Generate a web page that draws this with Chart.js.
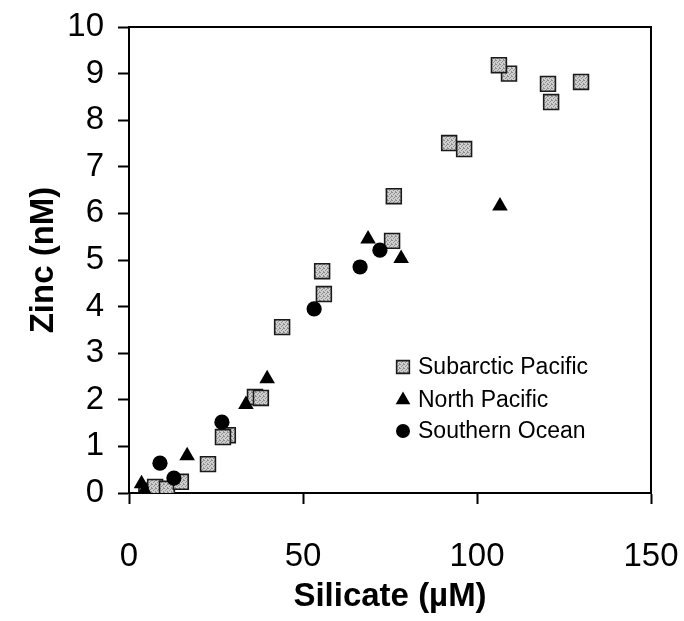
<!DOCTYPE html>
<html><head><meta charset="utf-8">
<script src="https://cdn.jsdelivr.net/npm/chart.js@4/dist/chart.umd.min.js"></script>
<style>html,body{margin:0;padding:0;background:#fff}</style>
</head><body>
<canvas id="c" width="684" height="621" style="display:block;width:684px;height:621px"></canvas>
<script>
// Data
const subarcticSilicate = [5.0, 7.5, 10.9, 14.9, 22.7, 28.4, 27.0, 36.2, 37.9, 44.0, 55.5, 56.0, 75.6, 76.1, 92.0, 96.3, 109.2, 106.3, 120.4, 121.3, 129.9];
const subarcticZinc     = [0.05, 0.13, 0.09, 0.24, 0.62, 1.24, 1.20, 2.06, 2.04, 3.56, 4.76, 4.27, 5.41, 6.37, 7.51, 7.38, 9.00, 9.18, 8.78, 8.39, 8.82];
const northSilicate = [3.6, 4.5, 16.7, 33.6, 39.7, 68.7, 78.2, 106.6];
const northZinc     = [0.20, 0.05, 0.80, 1.90, 2.45, 5.45, 5.03, 6.16];
const southSilicate = [8.9, 12.9, 26.7, 53.2, 66.4, 72.1];
const southZinc     = [0.64, 0.32, 1.52, 3.95, 4.85, 5.21];
const seriesNames = ['Subarctic Pacific', 'North Pacific', 'Southern Ocean'];
const xTicks = [0, 50, 100, 150];
const yTicks = [0, 1, 2, 3, 4, 5, 6, 7, 8, 9, 10];

function pts(xs, ys) { return xs.map((x, i) => ({x: x, y: ys[i]})); }

// speckled grey fill for the squares
const pc = document.createElement('canvas');
pc.width = 4; pc.height = 4;
const pctx = pc.getContext('2d');
pctx.fillStyle = '#cfcfcf'; pctx.fillRect(0, 0, 4, 4);
pctx.fillStyle = '#8f8f8f';
[[0,0],[2,1],[1,2],[3,3],[3,0]].forEach(p => pctx.fillRect(p[0], p[1], 1, 1));
const speckle = pctx.createPattern(pc, 'repeat');

const TICK_FONT = {family: "'Liberation Sans', Arial, sans-serif", size: 33};
const TITLE_FONT = {family: "'Liberation Sans', Arial, sans-serif", size: 33, weight: 'bold'};

function noPad(s) { s.paddingLeft = 0; s.paddingRight = 0; s.paddingTop = 0; s.paddingBottom = 0; }

const framePlugin = {
  id: 'frame',
  afterDatasetsDraw(chart) {
    const {ctx, chartArea: a} = chart;
    ctx.save();
    ctx.strokeStyle = '#000'; ctx.lineWidth = 2;
    ctx.beginPath();
    ctx.moveTo(a.left, a.top); ctx.lineTo(a.right, a.top); ctx.lineTo(a.right, a.bottom);
    ctx.stroke();
    ctx.restore();
  }
};

const legendPlugin = {
  id: 'insideLegend',
  afterDraw(chart) {
    const {ctx} = chart;
    const mx = 403, tx = 418;
    const rows = [367, 400, 431];
    ctx.save();
    ctx.font = "23px 'Liberation Sans', Arial, sans-serif";
    ctx.textBaseline = 'middle';
    ctx.textAlign = 'left';
    chart.data.datasets.forEach((ds, i) => {
      const y = rows[i];
      ctx.fillStyle = ds.pointBackgroundColor;
      ctx.strokeStyle = ds.pointBorderColor;
      ctx.lineWidth = ds.pointBorderWidth;
      Chart.helpers.drawPoint(ctx, {pointStyle: ds.pointStyle, radius: ds.legendRadius, borderWidth: ds.pointBorderWidth, rotation: 0}, mx, y);
      ctx.fillStyle = '#000';
      ctx.fillText(ds.label, tx, y + 1);
    });
    ctx.restore();
  }
};

new Chart(document.getElementById('c'), {
  type: 'scatter',
  data: {
    datasets: [
      {label: seriesNames[0], data: pts(subarcticSilicate, subarcticZinc), pointStyle: 'rect', pointRadius: 10.5, legendRadius: 9,
       pointBackgroundColor: speckle, pointBorderColor: '#1a1a1a', pointBorderWidth: 1.6, order: 3},
      {label: seriesNames[1], data: pts(northSilicate, northZinc), pointStyle: 'triangle', pointRadius: 9, legendRadius: 8.5,
       pointBackgroundColor: '#000', pointBorderColor: '#000', pointBorderWidth: 0, order: 1},
      {label: seriesNames[2], data: pts(southSilicate, southZinc), pointStyle: 'circle', pointRadius: 7.6, legendRadius: 7,
       pointBackgroundColor: '#000', pointBorderColor: '#000', pointBorderWidth: 0, order: 2}
    ]
  },
  options: {
    responsive: false,
    animation: false,
    events: [],
    layout: {padding: {left: 0, right: 33, top: 27, bottom: 0}},
    plugins: {legend: {display: false}, tooltip: {enabled: false}},
    scales: {
      x: {
        type: 'linear', min: 0, max: 150,
        afterBuildTicks: s => { s.ticks = xTicks.map(v => ({value: v})); },
        afterFit: s => { s.height = 128; noPad(s); },
        ticks: {font: TICK_FONT, color: '#000', padding: 33, maxRotation: 0},
        grid: {drawOnChartArea: false, drawTicks: true, tickLength: 11, tickWidth: 2, tickColor: '#000'},
        border: {display: true, color: '#000', width: 2},
        title: {display: true, text: 'Silicate (µM)', font: TITLE_FONT, color: '#000', padding: {top: 0, bottom: 4}}
      },
      y: {
        type: 'linear', min: 0, max: 10,
        afterBuildTicks: s => { s.ticks = yTicks.map(v => ({value: v})); },
        afterFit: s => { s.width = 129; noPad(s); },
        ticks: {font: TICK_FONT, color: '#000', padding: 14},
        grid: {drawOnChartArea: false, drawTicks: true, tickLength: 11, tickWidth: 2, tickColor: '#000'},
        border: {display: true, color: '#000', width: 2},
        title: {display: true, text: 'Zinc (nM)', font: TITLE_FONT, color: '#000', padding: {top: 24, bottom: 0}}
      }
    }
  },
  plugins: [framePlugin, legendPlugin]
});
</script>
</body></html>
